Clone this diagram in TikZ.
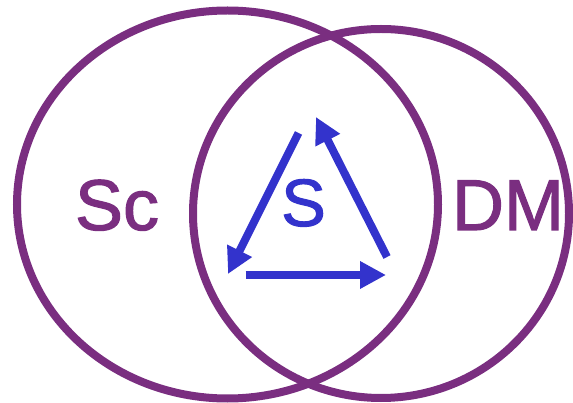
\documentclass[tikz,border=0pt]{standalone}
\usepackage{fontspec}
\setmainfont{Liberation Sans}
\newfontfamily\heavysans{Liberation Sans}[FakeBold=1.5]
\usetikzlibrary{arrows.meta}

\definecolor{vennpurple}{RGB}{122,46,128}
\definecolor{cycleblue}{RGB}{51,51,204}

\begin{document}
\begin{tikzpicture}[x=1pt, y=-1pt,
    ring/.style={draw=vennpurple, line width=8pt},
    setname/.style={font=\heavysans\fontsize{72}{86}\selectfont, text=vennpurple, anchor=base, inner sep=0pt},
    cyclename/.style={font=\heavysans\fontsize{67}{80}\selectfont, text=cycleblue, anchor=base, inner sep=0pt},
    cyclearrow/.style={draw=cycleblue, line width=8pt, -{Triangle[length=26pt, width=26pt]}}]
    \useasboundingbox (0,0) rectangle (573,403);

    % Two overlapping sets
    \draw[ring] (227.5,204.5) ellipse (210.5 and 194);
    \draw[ring] (381,213.5) ellipse (188 and 184.5);

    % Set names
    \node[setname] (sc) at (117,230) {Sc};
    \node[setname] (dm) at (508,230) {DM};
    \node[cyclename] (s) at (303.5,226) {S};

    % Corners of the cycle
    \coordinate (topout) at (298.5,133);
    \coordinate (lefttip) at (228,274);
    \coordinate (bottomout) at (245.6,275);
    \coordinate (righttip) at (386,275);
    \coordinate (rightout) at (387,257);
    \coordinate (toptip) at (316,117);

    % Cycle arrows
    \draw[cyclearrow] (topout) -- (lefttip);
    \draw[cyclearrow] (bottomout) -- (righttip);
    \draw[cyclearrow] (rightout) -- (toptip);
\end{tikzpicture}
\end{document}
